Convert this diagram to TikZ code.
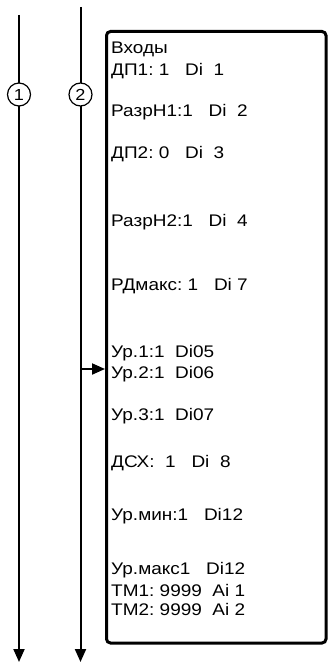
\documentclass[tikz,border=0pt]{standalone}
\usepackage{fontspec}
\setmainfont{Liberation Sans}[FakeStretch=1.13]
\usetikzlibrary{arrows.meta}
\begin{document}
\begin{tikzpicture}[x=1pt,y=-1pt,
  lbl/.style={anchor=base west, inner sep=0pt, font=\fontsize{16.8}{18}\selectfont},
  bus/.style={line width=2pt, -{Triangle[width=11pt,length=13pt]}},
  tag/.style={circle, draw, line width=1.2pt, fill=white, minimum size=23pt,
    inner sep=0pt, font=\fontsize{16}{16}\selectfont},
  panel/.style={draw, line width=3pt, rounded corners=4pt, inner sep=0pt}]
\useasboundingbox (0,0) rectangle (330,663);

% two signal lines
\coordinate (t1) at (19,15);
\coordinate (b1) at (19,662);
\coordinate (t2) at (80.5,7);
\coordinate (b2) at (80.5,662);
\draw[bus] (t1) -- (b1);
\draw[bus] (t2) -- (b2);
\node[tag] (c1) at (19,94.5) {1};
\node[tag] (c2) at (80.5,94.5) {2};

% input panel
\node[panel, minimum width=219.5pt, minimum height=611.5pt] (panel) at (216.25,337.25) {};

% tap from line 2 into the panel
\coordinate (j) at (80.5,369);
\draw[bus] (j) -- (panel.west |- j);

% panel contents
\node[lbl] (l0)  at (111,53.5)  {Входы};
\node[lbl] (l1)  at (111,75.5)  {ДП1:~1~~~Di~~1};
\node[lbl] (l2)  at (111,117)   {РазрН1:1~~~Di~~2};
\node[lbl] (l3)  at (111,159)   {ДП2:~0~~~Di~~3};
\node[lbl] (l4)  at (111,226.7) {РазрН2:1~~~Di~~4};
\node[lbl] (l5)  at (111,290)   {РДмакс:~1~~~Di~7};
\node[lbl] (l6)  at (111,357.3) {Ур.1:1~~Di05};
\node[lbl] (l7)  at (111,378.3) {Ур.2:1~~Di06};
\node[lbl] (l8)  at (111,420)   {Ур.3:1~~Di07};
\node[lbl] (l9)  at (111,467)   {ДСХ:~~1~~~Di~~8};
\node[lbl] (l10) at (111,520)   {Ур.мин:1~~~Di12};
\node[lbl] (l11) at (111,574)   {Ур.макс1~~~Di12};
\node[lbl] (l12) at (111,596)   {ТМ1:~9999~~Ai~1};
\node[lbl] (l13) at (111,615)   {ТМ2:~9999~~Ai~2};
\end{tikzpicture}
\end{document}
